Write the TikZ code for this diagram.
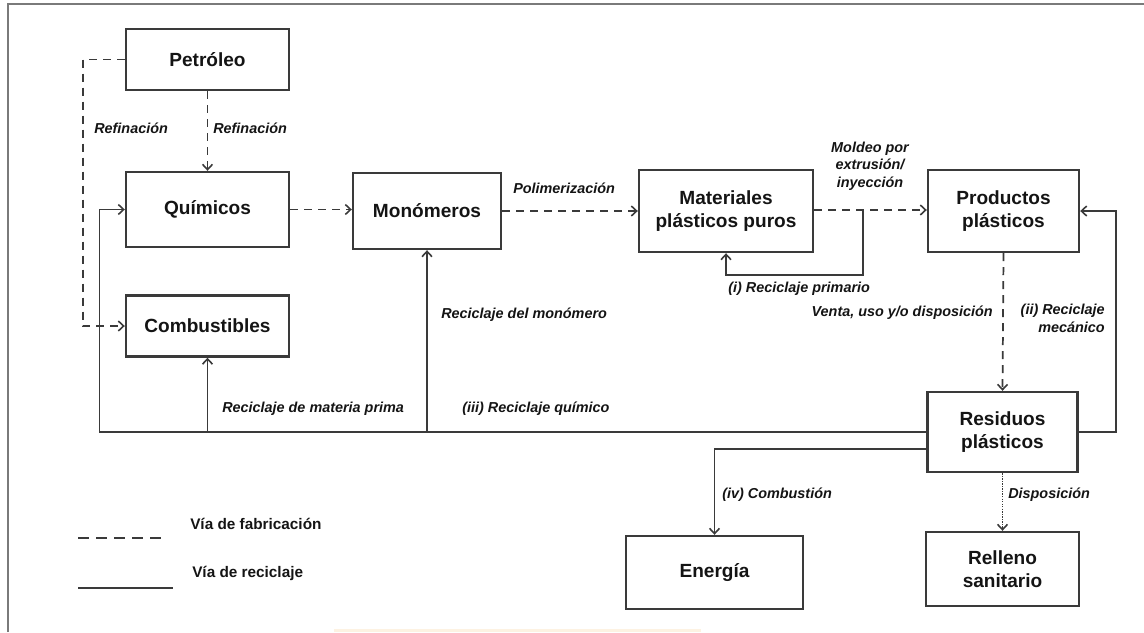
\documentclass[tikz,border=0pt]{standalone}
\usepackage{fontspec}
\setmainfont{Liberation Sans}
\usetikzlibrary{arrows.meta,calc}

\definecolor{ink}{HTML}{3A3A3A}
\definecolor{txt}{HTML}{141414}
\definecolor{frame}{HTML}{7A7A7A}
\definecolor{strip}{HTML}{FDF2E2}

% one drawing unit
\def\px{0.75pt}

\tikzset{
  box/.style={draw=ink, line width=1.8pt, rectangle, inner sep=0pt, align=center,
              text=txt, font=\fontsize{14.3}{17}\selectfont\bfseries},
  bsize/.style 2 args={minimum width=#1*\px, minimum height=#2*\px},
  lbl/.style={inner sep=0pt, text=txt, font=\fontsize{10.8}{13}\selectfont\bfseries\itshape},
  leg/.style={inner sep=0pt, text=txt, font=\fontsize{11.5}{14}\selectfont\bfseries},
  tip/.style={-{Straight Barb[length=4pt,width=7.5pt,line width=1.2pt]}},
  fab/.style={draw=ink, line width=1.3pt, dash pattern=on 6pt off 4.5pt, tip},
  rec/.style={draw=ink, line width=1.3pt},
  disp/.style={draw=ink, line width=1.2pt, dash pattern=on 1pt off 0.9pt, tip}
}

\begin{document}
\begin{tikzpicture}[x=0.75pt,y=-0.75pt]
\useasboundingbox (0,0) rectangle (1144,632);

% page frame and bottom strip
\fill[strip] (334,629) rectangle (701,632);
\draw[frame, line width=1.1pt] (8,632) -- (8,4) -- (1144,4);

% boxes
\node[box, bsize={163}{61}] (pet)  at (207.5,59.5) {Petróleo};
\node[box, bsize={163}{75}] (qui)  at (207.5,209.5) {Químicos};
\node[box, bsize={163}{61}] (comb) at (207.5,326) {Combustibles};
\node[box, bsize={148}{76}] (mono) at (427,211) {Monómeros};
\node[box, bsize={174}{82}] (mat)  at (726,211) {Materiales\\plásticos puros};
\node[box, bsize={151}{82}] (prod) at (1003.5,211) {Productos\\plásticos};
\node[box, bsize={150}{80}] (res)  at (1002.5,432) {Residuos\\plásticos};
\node[box, bsize={177}{73}] (ener) at (714.5,572.5) {Energía};
\node[box, bsize={153}{74}] (rell) at (1002.5,569) {Relleno\\sanitario};

% manufacturing route (dashed)
\draw[fab] (pet.south) -- (qui.north);
\draw[fab] (pet.west) -- ++(-42,0) |- (comb.west);
\draw[fab] (qui.east) -- (qui.east -| mono.west);
\draw[fab] (mono.east) -- (mono.east -| mat.west);
\draw[fab] (mat.east |- 0,210) -- (prod.west |- 0,210);
\draw[fab] (prod.south) -- (res.north);
\draw[disp] (res.south) -- (rell.north);

% recycling routes (solid)
\coordinate (loop) at (863,210);
\draw[rec, tip] (loop) -- (863,275) -| (mat.south);
\coordinate (back) at (99.5,432);
\draw[rec, tip] (res.west) -- (back) |- (qui.west);
\draw[rec, tip] (comb.south |- back) -- (comb.south);
\draw[rec, tip] (mono.south |- back) -- (mono.south);
\draw[rec, tip] (res.east) -- ++(37,0) |- (prod.east);
\draw[rec, tip] ($(res.west)+(0,17)$) -| (ener.north);

% route labels
\node[lbl, anchor=west] (l1) at (94,128) {Refinación};
\node[lbl, anchor=west] (l2) at (213,128) {Refinación};
\node[lbl, anchor=west] (l3) at (513,188) {Polimerización};
\node[lbl, align=center] (l4) at (870,166) {Moldeo por\\extrusión/\\inyección};
\node[lbl, anchor=west] (l5) at (728,289) {(i) Reciclaje primario};
\node[lbl, anchor=east] (l6) at (993,313) {Venta, uso y/o disposición};
\node[lbl, anchor=east, align=right] (l7) at (1105,318.5) {(ii) Reciclaje\\mecánico};
\node[lbl, anchor=west] (l8) at (441,315) {Reciclaje del monómero};
\node[lbl, anchor=west] (l9) at (222,409) {Reciclaje de materia prima};
\node[lbl, anchor=west] (l10) at (462,409) {(iii) Reciclaje químico};
\node[lbl, anchor=west] (l11) at (722,495) {(iv) Combustión};
\node[lbl, anchor=west] (l12) at (1008,495) {Disposición};

% legend
\coordinate (la) at (78,538);
\coordinate (lb) at (166,538);
\coordinate (lc) at (78,588);
\coordinate (ld) at (173,588);
\draw[draw=ink, line width=1.7pt, dash pattern=on 8pt off 5.5pt] (la) -- (lb);
\draw[draw=ink, line width=2pt] (lc) -- (ld);
\node[leg, anchor=west] (t1) at (190,524) {Vía de fabricación};
\node[leg, anchor=west] (t2) at (192,573) {Vía de reciclaje};
\end{tikzpicture}
\end{document}
